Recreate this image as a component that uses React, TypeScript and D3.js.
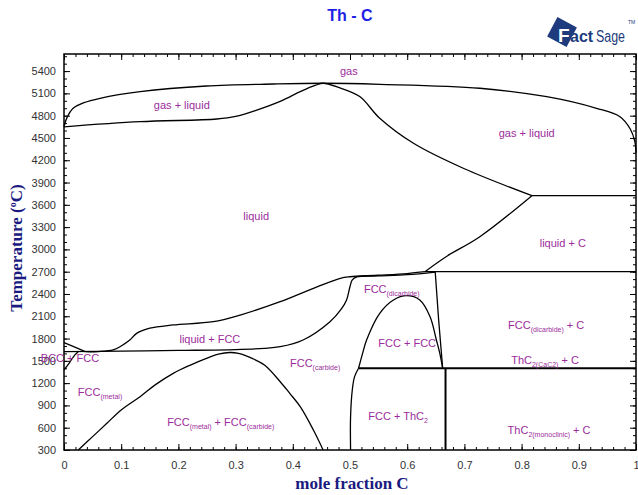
import { useEffect, useRef } from 'react'
import * as d3 from 'd3'

// axis ticks
const xTicks = [0, 0.1, 0.2, 0.3, 0.4, 0.5, 0.6, 0.7, 0.8, 0.9, 1]
const xTickLabels = ['0', '0.1', '0.2', '0.3', '0.4', '0.5', '0.6', '0.7', '0.8', '0.9', '1']
const yTicks = [300, 600, 900, 1200, 1500, 1800, 2100, 2400, 2700, 3000, 3300, 3600, 3900, 4200, 4500, 4800, 5100, 5400]

// phase boundaries, [mole fraction C, T in C]
const dewLine = [[0, 4650], [0.005, 4770], [0.016, 4899], [0.035, 4975], [0.063, 5034], [0.133, 5123], [0.249, 5199], [0.366, 5226], [0.453, 5236], [0.552, 5222], [0.727, 5169], [0.844, 5055], [0.931, 4899], [0.972, 4786], [0.99, 4620], [0.998, 4450], [1.0, 4300]]
const bubbleLine = [[0, 4650], [0.133, 4719], [0.267, 4755], [0.3, 4790], [0.337, 4876], [0.38, 5000], [0.413, 5123], [0.44, 5210], [0.453, 5236], [0.48, 5180], [0.517, 5057], [0.552, 4765], [0.611, 4428], [0.698, 4092], [0.818, 3723]]
const carbonLiquidus = [[0.818, 3723], [0.727, 3171], [0.668, 2902], [0.631, 2700]]
const gasCLine = [[0.818, 3723], [1, 3723]]
const peritecticLine = [[0.631, 2700], [1, 2700]]
const fccLiquidus = [[0.037, 1623], [0.06, 1625], [0.086, 1646], [0.1, 1700], [0.115, 1780], [0.127, 1870], [0.15, 1940], [0.191, 1983], [0.261, 2027], [0.308, 2117], [0.378, 2296], [0.436, 2476], [0.483, 2611], [0.5, 2632], [0.55, 2652], [0.6, 2675], [0.631, 2700]]
const fccSolidus = [[0, 1623], [0.1, 1630], [0.2, 1640], [0.3, 1652], [0.35, 1668], [0.378, 1690], [0.418, 1781], [0.465, 2027], [0.485, 2200], [0.494, 2319], [0.5, 2500], [0.504, 2590], [0.512, 2630], [0.55, 2643], [0.6, 2660], [0.649, 2695]]
const bccUpper = [[0, 1744], [0.02, 1680], [0.037, 1623]]
const bccLower = [[0, 1377], [0.01, 1480], [0.019, 1580], [0.025, 1623]]
const fccGap = [[0.025, 300], [0.05, 480], [0.075, 659], [0.1, 840], [0.133, 1017], [0.16, 1180], [0.191, 1332], [0.22, 1440], [0.249, 1534], [0.27, 1590], [0.29, 1612], [0.305, 1600], [0.33, 1530], [0.351, 1440], [0.378, 1219], [0.395, 1060], [0.413, 883], [0.436, 569], [0.453, 300]]
const dicarbideRight = [[0.649, 2695], [0.655, 2050], [0.662, 1400]]
const fccDome = [[0.515, 1400], [0.522, 1600], [0.529, 1781], [0.552, 2140], [0.576, 2319], [0.599, 2377], [0.622, 2319], [0.64, 2094], [0.651, 1781], [0.657, 1600], [0.662, 1400]]
const thcSolvus = [[0.501, 300], [0.501, 748], [0.504, 1108], [0.508, 1287], [0.515, 1400]]
const eutectoidLine = [[0.515, 1400], [1, 1400]]
const thc2Line = [[0.667, 300], [0.667, 1400]]

const curves = [dewLine, bubbleLine, carbonLiquidus, fccLiquidus, fccSolidus, bccUpper, bccLower, fccGap, fccDome, thcSolvus]
const straights = [gasCLine, peritecticLine, dicarbideRight]

// region labels: alternating normal / subscript parts, placed at [x, T]
const regionLabels = [
  { parts: ['gas'], at: [0.498, 5348] },
  { parts: ['gas + liquid'], at: [0.206, 4890] },
  { parts: ['gas + liquid'], at: [0.809, 4513] },
  { parts: ['liquid'], at: [0.336, 3396] },
  { parts: ['liquid + C'], at: [0.872, 3032] },
  { parts: ['FCC', '(dicarbide)'], at: [0.573, 2413] },
  { parts: ['liquid + FCC'], at: [0.255, 1740] },
  { parts: ['FCC + FCC'], at: [0.6, 1686] },
  { parts: ['BCC + FCC'], at: [0.0105, 1484] },
  { parts: ['FCC', '(carbide)'], at: [0.439, 1417] },
  { parts: ['ThC', '2(CaC2)', ' + C'], at: [0.841, 1458] },
  { parts: ['FCC', '(dicarbide)', ' + C'], at: [0.843, 1929] },
  { parts: ['FCC', '(metal)'], at: [0.063, 1027] },
  { parts: ['FCC', '(metal)', ' + FCC', '(carbide)'], at: [0.274, 623] },
  { parts: ['FCC + ThC', '2'], at: [0.584, 704] },
  { parts: ['ThC', '2(monoclinic)', ' + C'], at: [0.848, 515] }
]

const App = () => {
  const svgRef = useRef(null)

  useEffect(() => {
    const width = 638
    const height = 495
    const sans = '"Liberation Sans", Arial, sans-serif'
    const serif = '"Liberation Serif", "Times New Roman", serif'

    const svg = d3.select(svgRef.current)
    svg.selectAll('*').remove()
    svg.attr('width', width).attr('height', height)

    const x = d3.scaleLinear().domain([0, 1]).range([64, 636])
    const y = d3.scaleLinear().domain([300, 5630]).range([450, 54])

    const minorX = d3.range(0, 1.0001, 0.02)
    const minorY = d3.range(300, 5601, 100)

    const axes = [
      { gen: d3.axisBottom, scale: x, pos: `translate(0,${y(300)})`, major: xTicks, minor: minorX, labels: true },
      { gen: d3.axisTop, scale: x, pos: `translate(0,${y(5630)})`, major: xTicks, minor: minorX, labels: false },
      { gen: d3.axisLeft, scale: y, pos: `translate(${x(0)},0)`, major: yTicks, minor: minorY, labels: true },
      { gen: d3.axisRight, scale: y, pos: `translate(${x(1)},0)`, major: yTicks, minor: minorY, labels: false }
    ]

    axes.forEach(a => {
      const isX = a.scale === x
      const g = svg.append('g').attr('transform', a.pos)
      g.call(a.gen(a.scale).tickValues(a.minor).tickSize(-3).tickFormat(() => ''))
      const mg = svg.append('g').attr('transform', a.pos)
      mg.call(
        a.gen(a.scale)
          .tickValues(a.major)
          .tickSize(-6)
          .tickPadding(isX ? 11 : 8)
          .tickFormat((d, i) => (a.labels ? (isX ? xTickLabels[i] : String(d)) : ''))
      )
      svg.selectAll('.domain').remove()
      ;[g, mg].forEach(s => {
        s.selectAll('line').attr('stroke', '#000').attr('stroke-width', 1)
        s.selectAll('text').attr('fill', '#333').style('font-family', sans).style('font-size', '11px')
      })
    })

    svg.append('rect')
      .attr('x', x(0)).attr('y', y(5630))
      .attr('width', x(1) - x(0)).attr('height', y(300) - y(5630))
      .attr('fill', 'none').attr('stroke', '#000').attr('stroke-width', 1.5)

    const smooth = d3.line().x(d => x(d[0])).y(d => y(d[1])).curve(d3.curveCatmullRom.alpha(0.5))
    const straight = d3.line().x(d => x(d[0])).y(d => y(d[1]))

    curves.forEach(c => {
      svg.append('path').datum(c).attr('d', smooth)
        .attr('fill', 'none').attr('stroke', '#000').attr('stroke-width', 1.3)
    })
    straights.forEach(c => {
      svg.append('path').datum(c).attr('d', straight)
        .attr('fill', 'none').attr('stroke', '#000').attr('stroke-width', 1.3)
    })
    ;[eutectoidLine, thc2Line].forEach(c => {
      svg.append('path').datum(c).attr('d', straight)
        .attr('fill', 'none').attr('stroke', '#000').attr('stroke-width', 2)
    })

    // region labels
    regionLabels.forEach(l => {
      const t = svg.append('text')
        .attr('x', x(l.at[0])).attr('y', y(l.at[1]))
        .attr('text-anchor', 'middle')
        .attr('fill', '#9b2c9b')
        .style('font-family', sans).style('font-size', '11px')
      l.parts.forEach((p, i) => {
        const sub = i % 2 === 1
        t.append('tspan')
          .attr('dy', sub ? 3 : (i > 1 ? -3 : 0))
          .style('font-size', sub ? '7px' : '11px')
          .text(p)
      })
    })

    // title
    svg.append('text')
      .attr('x', 350).attr('y', 21)
      .attr('text-anchor', 'middle')
      .attr('fill', '#1f1fe6')
      .style('font-family', sans).style('font-size', '16px').style('font-weight', 'bold')
      .text('Th - C')

    // axis titles
    svg.append('text')
      .attr('x', 352).attr('y', 489)
      .attr('text-anchor', 'middle')
      .attr('fill', '#1a1a80')
      .style('font-family', serif).style('font-size', '17px').style('font-weight', 'bold')
      .text('mole fraction C')

    const yt = svg.append('text')
      .attr('transform', `translate(22,248) rotate(-90)`)
      .attr('text-anchor', 'middle')
      .attr('fill', '#1a1a80')
      .style('font-family', serif).style('font-size', '17px').style('font-weight', 'bold')
    yt.append('tspan').text('Temperature (')
    yt.append('tspan').attr('dy', -6).style('font-size', '10px').text('o')
    yt.append('tspan').attr('dy', 6).text('C)')

    // FactSage logo
    const logo = svg.append('g')
    logo.append('rect')
      .attr('x', -11).attr('y', -11).attr('width', 22).attr('height', 22)
      .attr('transform', 'translate(562,32) rotate(28)')
      .attr('fill', '#1d3b7d')
    logo.append('text')
      .attr('x', 558).attr('y', 42)
      .attr('fill', '#fff')
      .style('font-family', sans).style('font-size', '19px').style('font-weight', 'bold')
      .text('F')
    logo.append('text')
      .attr('x', 570).attr('y', 42)
      .attr('fill', '#1d3b7d')
      .style('font-family', sans).style('font-size', '16px').style('font-weight', 'bold')
      .text('act')
    logo.append('text')
      .attr('x', 596).attr('y', 42)
      .attr('fill', '#1d3b7d')
      .attr('textLength', 29).attr('lengthAdjust', 'spacingAndGlyphs')
      .style('font-family', sans).style('font-size', '16px')
      .text('Sage')
    logo.append('text')
      .attr('x', 628).attr('y', 24)
      .attr('fill', '#1d3b7d')
      .style('font-family', sans).style('font-size', '5px')
      .text('TM')
  }, [])

  return (
    <svg ref={svgRef} style={{ position: 'absolute', left: 0, top: 0 }}></svg>
  )
}

export default App
